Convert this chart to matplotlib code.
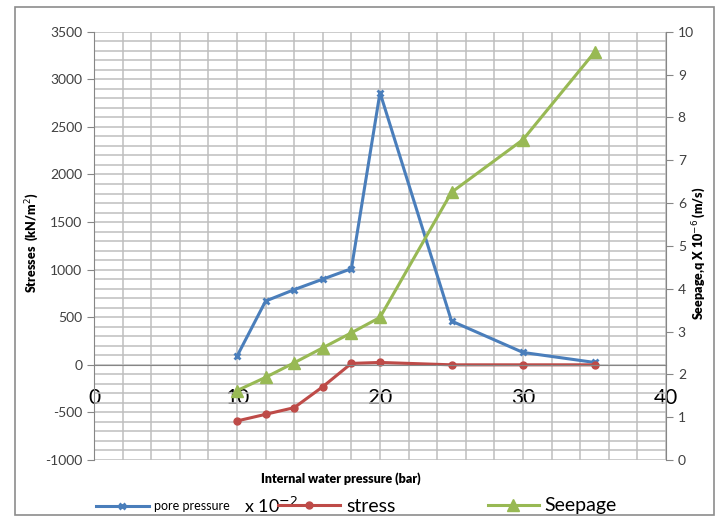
import matplotlib.pyplot as plt
from matplotlib.patches import Rectangle
from matplotlib.ticker import MultipleLocator

plt.rcParams['font.family'] = ['Lato', 'DejaVu Sans']
plt.rcParams['axes.unicode_minus'] = False

# data
pressure = [10, 12, 14, 16, 18, 20, 25, 30, 35]
pore_pressure = [90, 670, 790, 900, 1010, 2860, 460, 130, 25]
stress = [-590, -520, -450, -230, 15, 25, 0, 0, 0]
seepage = [1.62, 1.93, 2.27, 2.62, 2.97, 3.33, 6.25, 7.48, 9.52]

blue = '#4A7EBB'
red = '#BE4B48'
green = '#98B954'
grey = '#868686'

fig = plt.figure(figsize=(7.2, 5.25), dpi=100)
fig.patches.append(Rectangle((15 / 720, 1 - 515 / 525), 699 / 720, 508 / 525,
                             transform=fig.transFigure, fill=False,
                             edgecolor='#8c8c8c', lw=1.2))

ax = fig.add_axes([94 / 720, 1 - 460 / 525, 572 / 720, 428.3 / 525])
ax2 = ax.twinx()

ax.set_xlim(0, 40)
ax.set_ylim(-1000, 3500)
ax2.set_ylim(0, 10)

ax.xaxis.set_major_locator(MultipleLocator(10))
ax.xaxis.set_minor_locator(MultipleLocator(2))
ax.yaxis.set_major_locator(MultipleLocator(500))
ax.yaxis.set_minor_locator(MultipleLocator(100))
ax2.yaxis.set_major_locator(MultipleLocator(1))

ax.grid(True, which='both', color='#bebebe', lw=1.1)
ax.set_axisbelow(True)

ax.spines['bottom'].set_position(('data', 0))
ax.spines['top'].set_visible(False)
ax2.spines['top'].set_visible(False)
ax2.spines['bottom'].set_visible(False)
ax2.spines['left'].set_visible(False)
for s in ['bottom', 'left']:
    ax.spines[s].set_color(grey)
ax.spines['right'].set_visible(False)
ax2.spines['right'].set_color(grey)

ax.tick_params(axis='x', which='both', length=0, pad=17, labelsize=15,
               colors='black')
ax.tick_params(axis='y', which='major', length=5, color=grey,
               labelsize=10, labelcolor='#404040')
ax.tick_params(axis='y', which='minor', length=0)
ax2.tick_params(axis='y', length=5, color=grey, labelsize=10,
                labelcolor='#404040')

l1, = ax.plot(pressure, pore_pressure, color=blue, lw=2.2, marker='x',
              ms=5, mew=2, label='pore pressure')
l2, = ax.plot(pressure, stress, color=red, lw=2.2, marker='o', ms=5,
              label='stress')
l3, = ax2.plot(pressure, seepage, color=green, lw=2.2, marker='^', ms=8,
               label='Seepage')

fig.text(33 / 720, 1 - 243 / 525, 'Stresses  (kN/m$^2$)', rotation=90,
         ha='center', va='center', fontsize=9, fontweight='heavy')
fig.text(700 / 720, 1 - 253 / 525, 'Seepage,q X 10$^{-6}$ (m/s)',
         rotation=90, ha='center', va='center', fontsize=9,
         fontweight='heavy')
fig.text(341 / 720, 1 - 479 / 525, 'Internal water pressure (bar)',
         ha='center', va='center', fontsize=9, fontweight='heavy')

# legend, one entry at a time so each sits where the original has it
y_leg = 1 - 506 / 525
fig.legend(handles=[l1], loc='center left', bbox_to_anchor=(96 / 720, y_leg),
           frameon=False, fontsize=9, handlelength=4.2, handletextpad=0.4,
           borderpad=0, borderaxespad=0)
fig.text(244 / 720, y_leg, 'x 10$^{-2}$', ha='left', va='center',
         fontsize=13)
fig.legend(handles=[l2], loc='center left', bbox_to_anchor=(278 / 720, y_leg),
           frameon=False, fontsize=14, handlelength=3.2, handletextpad=0.3,
           borderpad=0, borderaxespad=0)
fig.legend(handles=[l3], loc='center left', bbox_to_anchor=(488 / 720, y_leg),
           frameon=False, fontsize=14, handlelength=2.6, handletextpad=0.3,
           borderpad=0, borderaxespad=0)

fig.savefig('out.png', dpi=100)
